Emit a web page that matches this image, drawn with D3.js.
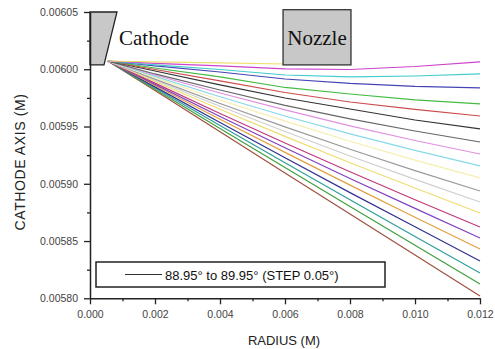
<!DOCTYPE html>
<html><head><meta charset="utf-8">
<script src="https://cdn.jsdelivr.net/npm/d3@7/dist/d3.min.js"></script>
<style>
html,body{margin:0;padding:0;background:#fff;}
svg{display:block;}
</style></head>
<body>
<svg id="chart" width="495" height="349"></svg>
<script>
// ---- data ----
const radius = [0.00055, 0.002, 0.004, 0.006, 0.008, 0.010, 0.012];
const angles = [89.95, 89.90, 89.85, 89.80, 89.75, 89.70, 89.65, 89.60, 89.55, 89.50, 89.45,
                89.40, 89.35, 89.30, 89.25, 89.20, 89.15, 89.10, 89.05, 89.00, 88.95];
const colors = ["#eee070", "#cc44cc", "#44cccc", "#4444b4", "#44bb44", "#cc4c4c", "#333333",
                "#666666", "#e090e0", "#88d8e8", "#f6eeb0", "#9a9a9a", "#cfcfcf", "#eedd70",
                "#c03a7a", "#8040c0", "#e0a040", "#303090", "#309c9c", "#40a040", "#a05040"];
const axisValues = [
  [0.0060072, 0.0060064, 0.0060055, 0.0060046],
  [0.0060072, 0.0060051, 0.0060029, 0.0060003, 0.0059998, 0.0060024, 0.0060064],
  [0.0060072, 0.0060038, 0.0059998, 0.0059950, 0.0059933, 0.0059941, 0.0059959],
  [0.0060072, 0.0060029, 0.0059976, 0.0059915, 0.0059876, 0.0059850, 0.0059837],
  [0.0060072, 0.0060011, 0.0059933, 0.0059841, 0.0059784, 0.0059732, 0.0059697],
  [0.0060072, 0.0059998, 0.0059898, 0.0059797, 0.0059714, 0.0059649, 0.0059592],
  [0.0060072, 0.0059985, 0.0059863, 0.0059749, 0.0059653, 0.0059557, 0.0059479],
  [0.0060072, 0.0059959, 0.0059819, 0.0059684, 0.0059566, 0.0059461, 0.0059365],
  [0.0060072, 0.0059950, 0.0059793, 0.0059645, 0.0059505, 0.0059378, 0.0059260],
  [0.0060072, 0.0059938, 0.0059760, 0.0059592, 0.0059436, 0.0059291, 0.0059156],
  [0.0060072, 0.0059927, 0.0059732, 0.0059547, 0.0059371, 0.0059207, 0.0059051],
  [0.0060072, 0.0059914, 0.0059701, 0.0059497, 0.0059302, 0.0059115, 0.0058937],
  [0.0060072, 0.0059904, 0.0059677, 0.0059456, 0.0059243, 0.0059039, 0.0058841],
  [0.0060072, 0.0059893, 0.0059651, 0.0059414, 0.0059184, 0.0058963, 0.0058745],
  [0.0060072, 0.0059879, 0.0059614, 0.0059356, 0.0059105, 0.0058861, 0.0058623],
  [0.0060072, 0.0059868, 0.0059587, 0.0059315, 0.0059046, 0.0058785, 0.0058527],
  [0.0060072, 0.0059858, 0.0059563, 0.0059274, 0.0058988, 0.0058708, 0.0058431],
  [0.0060072, 0.0059846, 0.0059535, 0.0059228, 0.0058923, 0.0058624, 0.0058326],
  [0.0060072, 0.0059836, 0.0059508, 0.0059183, 0.0058860, 0.0058540, 0.0058221],
  [0.0060072, 0.0059825, 0.0059483, 0.0059142, 0.0058801, 0.0058463, 0.0058125],
  [0.0060072, 0.0059814, 0.0059455, 0.0059095, 0.0058737, 0.0058379, 0.0058021]
];
const xTicks = [0, 0.002, 0.004, 0.006, 0.008, 0.010, 0.012];
const xMinor = [0.001, 0.003, 0.005, 0.007, 0.009, 0.011];
const yTicks = [0.00580, 0.00585, 0.00590, 0.00595, 0.00600, 0.00605];
const yMinor = [0.005825, 0.005875, 0.005925, 0.005975, 0.006025];
// annotation shapes (data coordinates)
const cathodeShape = [[0, 0.00605], [0.00083, 0.00605], [0.00043, 0.0060038], [0, 0.0060038]];
const nozzleBox = {x0: 0.00594, x1: 0.00803, y0: 0.0060038, y1: 0.006052};

// ---- drawing ----
const svg = d3.select("#chart");
const x = d3.scaleLinear().domain([0, 0.012]).range([90, 480]);
const y = d3.scaleLinear().domain([0.0058, 0.00605]).range([298.3, 12]);

const line = d3.line().x(d => x(d[0])).y(d => y(d[1]));
const series = axisValues.map((vals, i) => ({
  angle: angles[i], color: colors[i],
  pts: vals.map((v, j) => [radius[j], v])
}));
svg.append("g").selectAll("path").data(series.slice().reverse()).join("path")
  .attr("d", d => line(d.pts))
  .attr("fill", "none")
  .attr("stroke", d => d.color)
  .attr("stroke-width", 1.2);

// cathode
svg.append("path")
  .attr("d", "M" + cathodeShape.map(p => [x(p[0]), y(p[1])].join(",")).join("L") + "Z")
  .attr("fill", "#c8c8c8").attr("stroke", "#222").attr("stroke-width", 1.3);
svg.append("text").attr("x", 119).attr("y", 45)
  .attr("font-family", "'Liberation Serif','Times New Roman',serif").attr("font-size", 21)
  .attr("fill", "#111").text("Cathode");

// nozzle
svg.append("rect")
  .attr("x", x(nozzleBox.x0)).attr("y", y(nozzleBox.y1))
  .attr("width", x(nozzleBox.x1) - x(nozzleBox.x0))
  .attr("height", y(nozzleBox.y0) - y(nozzleBox.y1))
  .attr("fill", "#c8c8c8").attr("stroke", "#333").attr("stroke-width", 1.3);
svg.append("text").attr("x", (x(nozzleBox.x0) + x(nozzleBox.x1)) / 2).attr("y", 45)
  .attr("text-anchor", "middle")
  .attr("font-family", "'Liberation Serif','Times New Roman',serif").attr("font-size", 21)
  .attr("fill", "#111").text("Nozzle");

// axes
const fontSans = "'Liberation Sans',Arial,sans-serif";
const gx = svg.append("g").attr("transform", "translate(0,298.3)")
  .call(d3.axisBottom(x).tickValues(xTicks).tickFormat(d3.format(".3f")).tickSize(6).tickSizeOuter(0).tickPadding(6));
const gxm = svg.append("g").attr("transform", "translate(0,298.3)")
  .call(d3.axisBottom(x).tickValues(xMinor).tickFormat("").tickSize(3).tickSizeOuter(0));
const gy = svg.append("g").attr("transform", "translate(90,0)")
  .call(d3.axisLeft(y).tickValues(yTicks).tickFormat(d3.format(".5f")).tickSize(6).tickSizeOuter(0).tickPadding(6));
const gym = svg.append("g").attr("transform", "translate(90,0)")
  .call(d3.axisLeft(y).tickValues(yMinor).tickFormat("").tickSize(3).tickSizeOuter(0));
[gx, gxm, gy, gym].forEach(g => {
  g.selectAll("path.domain").attr("stroke", "#222").attr("stroke-width", 1.5);
  g.selectAll(".tick line").attr("stroke", "#222").attr("stroke-width", 1.3);
  g.selectAll(".tick text").attr("font-family", fontSans).attr("font-size", 10.5).attr("fill", "#444");
});
gxm.select("path.domain").remove();
gym.select("path.domain").remove();

// axis titles
svg.append("text").attr("x", 284).attr("y", 345).attr("text-anchor", "middle")
  .attr("font-family", fontSans).attr("font-size", 13).attr("fill", "#222").text("RADIUS (M)");
svg.append("text").attr("transform", "translate(25,162) rotate(-90)").attr("text-anchor", "middle")
  .attr("font-family", fontSans).attr("font-size", 14).attr("letter-spacing", 0.6)
  .attr("fill", "#222").text("CATHODE AXIS (M)");

// legend
const lg = svg.append("g");
lg.append("rect").attr("x", 96).attr("y", 262).attr("width", 289).attr("height", 25)
  .attr("fill", "#fff").attr("stroke", "#222").attr("stroke-width", 1.5);
lg.append("line").attr("x1", 125).attr("x2", 162).attr("y1", 274.5).attr("y2", 274.5)
  .attr("stroke", "#333").attr("stroke-width", 1.2);
lg.append("text").attr("x", 165).attr("y", 279.5)
  .attr("font-family", fontSans).attr("font-size", 13).attr("fill", "#111")
  .text(`${angles[angles.length - 1].toFixed(2)}° to ${angles[0].toFixed(2)}° (STEP 0.05°)`);
</script>
</body></html>
